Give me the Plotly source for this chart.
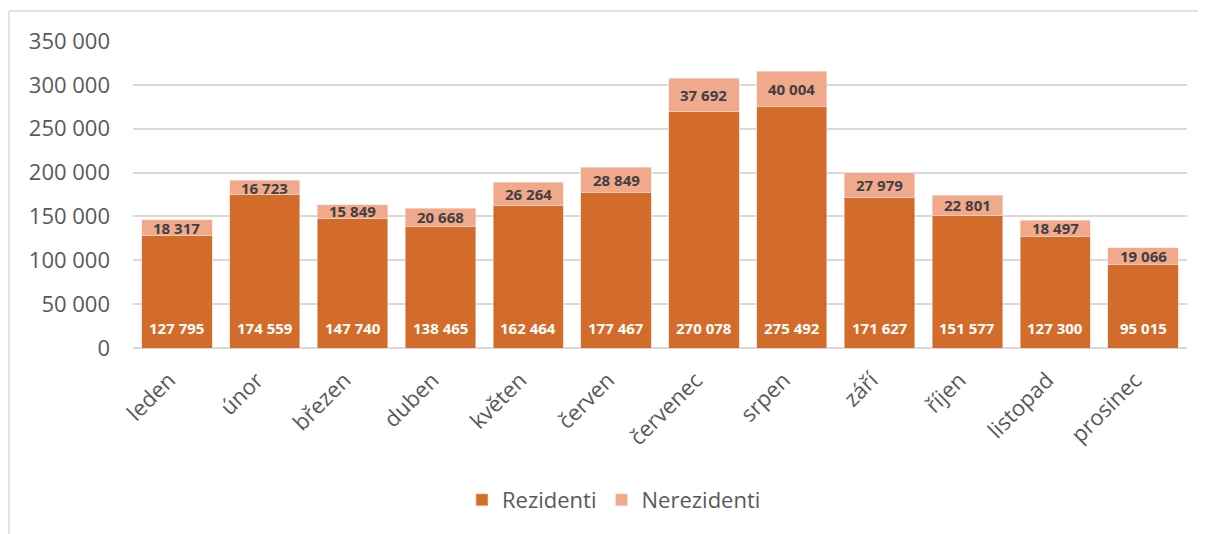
import plotly.graph_objects as go

months = ["leden", "únor", "březen", "duben", "květen", "červen", "červenec",
          "srpen", "září", "říjen", "listopad", "prosinec"]
rezidenti = [127795, 174559, 147740, 138465, 162464, 177467, 270078,
             275492, 171627, 151577, 127300, 95015]
nerezidenti = [18317, 16723, 15849, 20668, 26264, 28849, 37692,
               40004, 27979, 22801, 18497, 19066]
y_ticks = [0, 50000, 100000, 150000, 200000, 250000, 300000, 350000]

C_REZ = "#D36C2B"
C_NEREZ = "#F1A98B"
FONT = "Open Sans"


def fmt(v):
    return f"{v:,}".replace(",", " ")


fig = go.Figure()
fig.add_trace(go.Bar(x=months, y=rezidenti, name="Rezidenti",
                     marker=dict(color=C_REZ, line=dict(color="#F4D5C4", width=0.6))))
fig.add_trace(go.Bar(x=months, y=nerezidenti, name="Nerezidenti",
                     marker=dict(color=C_NEREZ, line=dict(color="#FBE2D8", width=0.6))))

ann = []
for m, r, n in zip(months, rezidenti, nerezidenti):
    ann.append(dict(x=m, y=0, yref="y", xref="x", text=f"<b>{fmt(r)}</b>",
                    showarrow=False, yanchor="middle", yshift=20,
                    font=dict(family=FONT, size=15, color="white")))
    ann.append(dict(x=m, y=r + n / 2, yref="y", xref="x", text=f"<b>{fmt(n)}</b>",
                    showarrow=False, yanchor="middle",
                    font=dict(family=FONT, size=15, color="#404040")))

OFF = 8  # page body margin
W, H = 1206 - OFF, 534 - OFF
L, R, T, B = 133 - OFF, 19, 41 - OFF, 186
pw, ph = W - L - R, H - T - B


def px2x(px):
    return (px - OFF - L) / pw


def py2y(py):
    return 1 - (py - OFF - T) / ph


shapes = [
    dict(type="line", xref="paper", yref="paper", x0=px2x(9), x1=px2x(1215),
         y0=py2y(11), y1=py2y(11), line=dict(color="#D9D9D9", width=1.5)),
    dict(type="line", xref="paper", yref="paper", x0=px2x(9), x1=px2x(9),
         y0=py2y(11), y1=py2y(545), line=dict(color="#D9D9D9", width=1.5)),
]

fig.update_layout(
    barmode="stack",
    bargap=0.2,
    width=W, height=H,
    margin=dict(l=L, r=R, t=T, b=B),
    paper_bgcolor="white",
    plot_bgcolor="white",
    font=dict(family=FONT, size=22, color="#595959"),
    annotations=ann,
    shapes=shapes,
    legend=dict(orientation="h", x=px2x(614), xanchor="center",
                y=py2y(500), yanchor="middle",
                font=dict(family=FONT, size=22, color="#595959"),
                itemwidth=30, traceorder="normal"),
    xaxis=dict(tickangle=-45, showgrid=False, showline=False,
               tickfont=dict(family=FONT, size=22, color="#595959"),
               ticklabelstandoff=14, ticklabelshift=-8),
    yaxis=dict(range=[0, 350000], tickvals=y_ticks,
               ticktext=[fmt(v) for v in y_ticks],
               showgrid=True, gridcolor="#D9D9D9", gridwidth=1.5,
               zeroline=True, zerolinecolor="#D9D9D9", zerolinewidth=1.5,
               tickfont=dict(family=FONT, size=22, color="#595959"),
               ticklabelstandoff=22),
)

fig.write_html("out.html")
